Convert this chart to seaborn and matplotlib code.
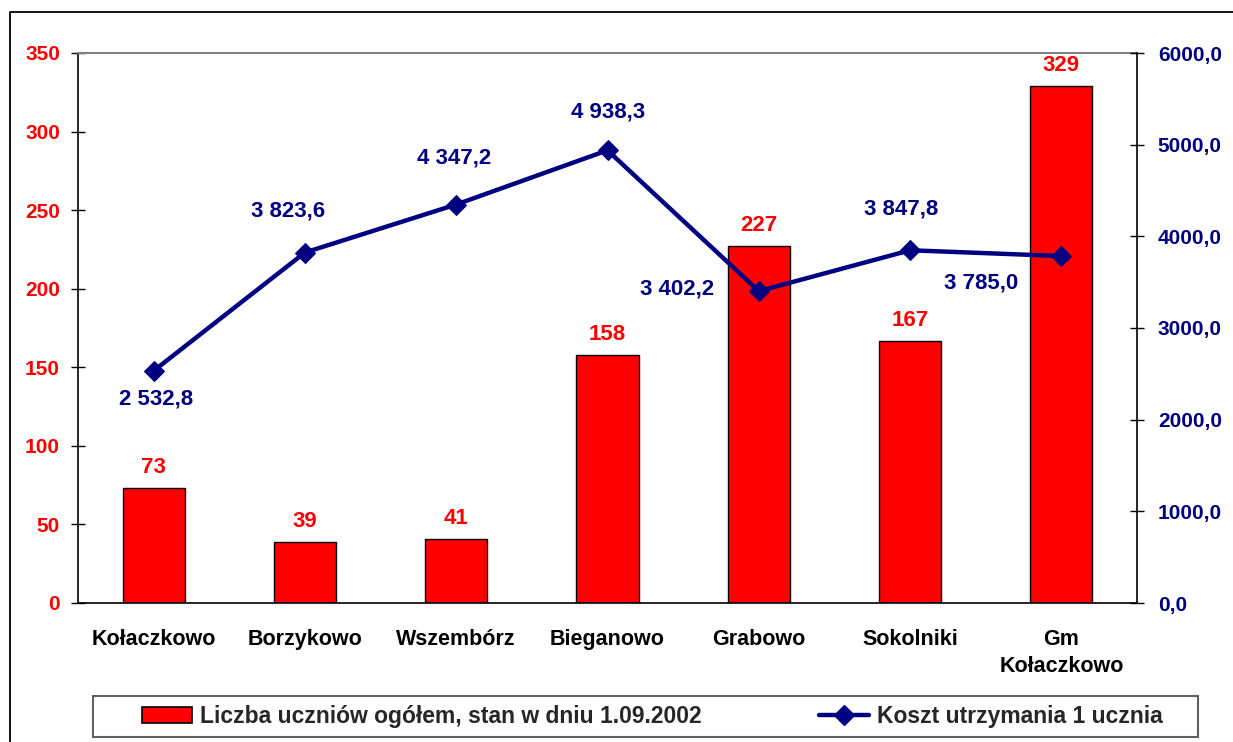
import numpy as np
import pandas as pd
import seaborn as sns
import matplotlib.pyplot as plt
from matplotlib.lines import Line2D
from matplotlib.patches import Patch, Rectangle
from matplotlib.ticker import FuncFormatter

# Data
schools = ["Kołaczkowo", "Borzykowo", "Wszembórz", "Bieganowo",
           "Grabowo", "Sokolniki", "Gm\nKołaczkowo"]
students = [73, 39, 41, 158, 227, 167, 329]
cost = [2532.8, 3823.6, 4347.2, 4938.3, 3402.2, 3847.8, 3785.0]
bar_label = "Liczba uczniów ogółem, stan w dniu 1.09.2002"
line_label = "Koszt utrzymania 1 ucznia"

RED = "#FF0000"
NAVY = "#000080"

sns.set_theme(style="white")
plt.rcParams["font.family"] = ["Liberation Sans", "DejaVu Sans"]
plt.rcParams["font.weight"] = "bold"

df = pd.DataFrame({"school": schools, "students": students, "cost": cost})

fig = plt.figure(figsize=(12.33, 7.42), dpi=100)
ax = fig.add_axes([78 / 1233, 1 - 603 / 742, (1137 - 78) / 1233, (603 - 53) / 742])

sns.barplot(data=df, x="school", y="students", color=RED, saturation=1,
            width=0.41, edgecolor="black", linewidth=1.0, errorbar=None, ax=ax)

ax.set_xlim(-0.5, len(schools) - 0.5)
ax.set_ylim(0, 350)
ax.set_yticks(np.arange(0, 351, 50))
ax.set_xlabel("")
ax.set_ylabel("")
ax.tick_params(axis="y", color="black", labelcolor=RED, direction="inout",
               length=10, width=1, pad=8, labelsize=15)
ax.tick_params(axis="x", length=0, pad=19, labelsize=15.5, labelcolor="black")
ax.set_xticks(np.arange(len(schools)) - 0.5, minor=True)
ax.tick_params(axis="x", which="minor", direction="inout", length=10,
               width=1, color="black")
for lab in ax.get_xticklabels():
    lab.set_linespacing(1.35)
    lab.set_fontweight("bold")
for lab in ax.get_yticklabels():
    lab.set_fontweight("bold")

for s in ["left", "bottom"]:
    ax.spines[s].set_color("black")
    ax.spines[s].set_linewidth(1.2)
ax.spines["top"].set_color("#808080")
ax.spines["top"].set_linewidth(1.5)
ax.spines["right"].set_visible(False)

for i, v in enumerate(students):
    ax.annotate(str(v), (i, v), xytext=(0, 10), textcoords="offset pixels",
                ha="center", va="bottom", color=RED, fontsize=16,
                fontweight="bold")

# Line on secondary axis
ax2 = ax.twinx()
sns.lineplot(x=np.arange(len(schools)), y=cost, ax=ax2, color=NAVY,
             linewidth=3.2, marker="D", markersize=10, markeredgecolor=NAVY)
ax2.set_ylim(0, 6000)
ax2.set_yticks(np.arange(0, 6001, 1000))
ax2.yaxis.set_major_formatter(FuncFormatter(lambda v, p: f"{v:.1f}".replace(".", ",")))
ax2.tick_params(axis="y", direction="inout", length=10, width=1, pad=10,
                color="black", labelcolor=NAVY, labelsize=15)
for lab in ax2.get_yticklabels():
    lab.set_fontweight("bold")
for s in ["left", "bottom", "top"]:
    ax2.spines[s].set_visible(False)
ax2.spines["right"].set_color("black")
ax2.spines["right"].set_linewidth(1.2)
ax2.set_xlim(-0.5, len(schools) - 0.5)

# label offsets in pixels and alignment
offsets = [((2, -28), "center"),
           ((-17, 42), "center"),
           ((-2, 47), "center"),
           ((1, 38), "center"),
           ((-45, 2), "right"),
           ((-9, 41), "center"),
           ((-43, -27), "right")]
for i, v in enumerate(cost):
    txt = f"{v:,.1f}".replace(",", " ").replace(".", ",")
    (dx, dy), ha = offsets[i]
    ax2.annotate(txt, (i, v), xytext=(dx, dy), textcoords="offset pixels",
                 ha=ha, va="center", color=NAVY, fontsize=16, fontweight="bold")

# Legend
handles = [Patch(facecolor=RED, edgecolor="black", linewidth=1.2),
           Line2D([], [], color=NAVY, linewidth=3.2, marker="D",
                  markersize=10)]
fig.legend(handles, [bar_label, line_label], ncol=2, mode="expand",
           loc="center", bbox_to_anchor=(142 / 1233, 5 / 742, 1021 / 1233, 41 / 742),
           frameon=False, borderpad=0, borderaxespad=0, handlelength=2.2,
           handletextpad=0.35, prop={"weight": "bold", "size": 16.5})
fig.patches.append(Rectangle((93 / 1233, 5 / 742), 1105 / 1233, 41 / 742,
                             transform=fig.transFigure, fill=False,
                             edgecolor="#606060", linewidth=1.5))

# Outer chart border
fig.lines.append(Line2D([10 / 1233, 10 / 1233, 1], [0, 1 - 12 / 742, 1 - 12 / 742],
                        transform=fig.transFigure, color="black", linewidth=1.3))

plt.savefig("out.png", dpi=100)
